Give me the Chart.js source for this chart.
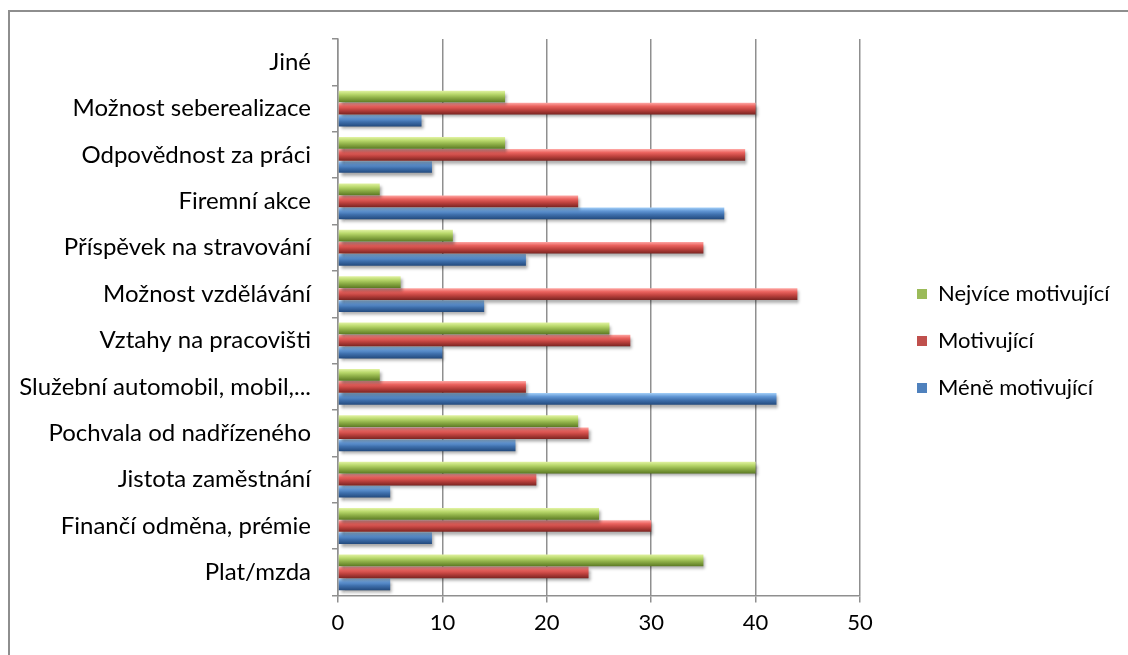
<!DOCTYPE html>
<html>
<head>
<meta charset="utf-8">
<script src="https://cdn.jsdelivr.net/npm/chart.js@4"></script>
<style>
  html, body { margin: 0; padding: 0; background: #fff; overflow: hidden; }
  #frame { position: absolute; left: 8px; top: 10px; width: 1200px; height: 700px; border: 2px solid #8e8e8e; }
  #wrap { position: absolute; left: 0; top: 0; width: 1128px; height: 655px; }
</style>
</head>
<body>
<div id="frame"></div>
<div id="wrap"><canvas id="barChart" width="1128" height="655"></canvas></div>
<script>
// categories, top to bottom
var categories = [
  'Jiné',
  'Možnost seberealizace',
  'Odpovědnost za práci',
  'Firemní akce',
  'Příspěvek na stravování',
  'Možnost vzdělávání',
  'Vztahy na pracovišti',
  'Služební automobil, mobil,...',
  'Pochvala od nadřízeného',
  'Jistota zaměstnání',
  'Finančí odměna, prémie',
  'Plat/mzda'
];
var seriesNames = ['Nejvíce motivující', 'Motivující', 'Méně motivující'];
var nejvice = [0, 16, 16, 4, 11, 6, 26, 4, 23, 40, 25, 35];
var motivujici = [0, 40, 39, 23, 35, 44, 28, 18, 24, 19, 30, 24];
var mene = [0, 8, 9, 37, 18, 14, 10, 42, 17, 5, 9, 5];
var xTicks = [0, 10, 20, 30, 40, 50];

// bar shading, light top -> dark bottom
var shades = [
  ['#e2f3a3', '#b9d86c', '#8fb048', '#5c7a24'],
  ['#ffa9a6', '#ea625e', '#c0433f', '#7a2421'],
  ['#a3cff8', '#6196d4', '#3f70ad', '#234a7d']
];
var baseColors = ['#9bbb59', '#c0504d', '#4f81bd'];

var barShade = {
  id: 'barShade',
  beforeDatasetsDraw: function (chart) {
    var ctx = chart.ctx;
    chart.data.datasets.forEach(function (ds, i) {
      chart.getDatasetMeta(i).data.forEach(function (bar) {
        var top = bar.y - bar.height / 2, bottom = bar.y + bar.height / 2;
        var g = ctx.createLinearGradient(0, top, 0, bottom);
        g.addColorStop(0, shades[i][0]);
        g.addColorStop(0.3, shades[i][1]);
        g.addColorStop(0.6, shades[i][2]);
        g.addColorStop(1, shades[i][3]);
        bar.options = Object.assign({}, bar.options, { backgroundColor: g });
      });
    });
    ctx.save();
    ctx.shadowColor = 'rgba(0,0,0,0.35)';
    ctx.shadowOffsetX = 2;
    ctx.shadowOffsetY = 3;
    ctx.shadowBlur = 3;
  },
  afterDatasetsDraw: function (chart) {
    chart.ctx.restore();
  }
};

// legend box: fixed width so it sits at the right place
var legendWidth = {
  id: 'legendWidth',
  beforeLayout: function (chart) {
    var lg = chart.legend;
    if (lg && !lg._patched) {
      var fit = lg.fit;
      lg.fit = function () { fit.call(this); this.width = 236; };
      lg._patched = true;
    }
  }
};

var ctx = document.getElementById('barChart').getContext('2d');
new Chart(ctx, {
  type: 'bar',
  data: {
    labels: categories,
    datasets: [
      { label: seriesNames[0], data: nejvice, backgroundColor: baseColors[0], borderWidth: 0 },
      { label: seriesNames[1], data: motivujici, backgroundColor: baseColors[1], borderWidth: 0 },
      { label: seriesNames[2], data: mene, backgroundColor: baseColors[2], borderWidth: 0 }
    ]
  },
  options: {
    indexAxis: 'y',
    responsive: false,
    animation: false,
    categoryPercentage: 0.78,
    barPercentage: 0.97,
    layout: { padding: { top: 39, bottom: 12, left: 0, right: 0 } },
    plugins: {
      tooltip: { enabled: false },
      legend: {
        position: 'right',
        labels: {
          boxWidth: 10,
          boxHeight: 10,
          padding: 25,
          color: '#000',
          font: { family: 'Lato', size: 22 }
        }
      }
    },
    scales: {
      x: {
        min: 0,
        max: 50,
        afterBuildTicks: function (scale) {
          scale.ticks = xTicks.map(function (v) { return { value: v }; });
        },
        grid: { color: '#8f8f8f', lineWidth: 1.5, tickLength: 7 },
        border: { color: '#8f8f8f', width: 1.5 },
        ticks: { color: '#000', padding: 7, font: { family: 'Lato', size: 22 } }
      },
      y: {
        grid: { display: true, drawOnChartArea: false, offset: true, tickLength: 6, color: '#8f8f8f', lineWidth: 1.5 },
        border: { color: '#8f8f8f', width: 1.5 },
        ticks: { color: '#000', padding: 21, font: { family: 'Lato', size: 24 } },
        afterFit: function (scale) { scale.width = 338; }
      },
      gap: {
        axis: 'y',
        type: 'category',
        position: 'right',
        grid: { display: false },
        border: { display: false },
        ticks: { display: false },
        afterFit: function (scale) { scale.width = 32; }
      }
    }
  },
  plugins: [barShade, legendWidth]
});
</script>
</body>
</html>
